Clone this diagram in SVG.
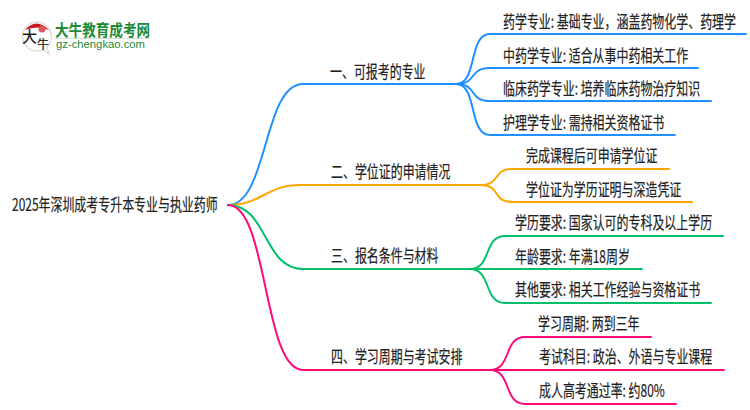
<svg xmlns="http://www.w3.org/2000/svg" width="750" height="410" viewBox="0 0 750 410">
<style>
text{font-family:"Noto Sans CJK SC","Liberation Sans",sans-serif;font-size:17px;fill:#222;stroke:#222;stroke-width:.2px}
.c{fill:none;stroke-width:2;stroke-linecap:round}
.b{stroke:#1e90ff}.o{stroke:#ffa500}.g{stroke:#00c06b}.p{stroke:#ff0a78}
</style>
<rect width="750" height="410" fill="#fff"/>
<g id="logo">
<path d="M37 22a14.500 14.500 0 1 0 0 29q3 0 6-1l6 4-2-7a14.500 14.500 0 0 0-10-25z" fill="#fff" stroke="#ddd" stroke-width="1.500"/>
<path d="M25 30q11-13 24 0q-12-5-24 0z" fill="#c8161d"/>
<circle cx="42" cy="29" r="3.500" fill="#d9535a"/>
<text x="22" y="42" style="font-size:15px;fill:#111;stroke:#111">大</text>
<text x="37" y="49" style="font-size:12px;fill:#111;stroke:#111">牛</text>
<text transform="matrix(.85 0 0 1 55 36)" style="font-size:16px;font-weight:700;fill:#1d8a3a;stroke:none">大牛教育成考网</text>
<rect x="55" y="38" width="95" height="1" fill="#cfe3d3"/>
<text x="56" y="48" textLength="89" lengthAdjust="spacingAndGlyphs" style="font-size:11.500px;fill:#1d8a3a;stroke:none;font-family:'Liberation Sans',sans-serif">gz-chengkao.com</text>
</g>
<g id="connectors">
<path class="c b" d="M228 205C268 205 263 84 303 84H456"/>
<path class="c o" d="M228 205C262 205 266 185 300 185H480"/>
<path class="c g" d="M228 205C268 205 263 269 303 269H470"/>
<path class="c p" d="M228 205C268 205 263 370 303 370H490"/>
<path class="c b" d="M456 84C478 84 468 34 490 34H746"/>
<path class="c b" d="M456 84C478 84 468 68 490 68H698"/>
<path class="c b" d="M456 84C478 84 468 101 490 101H711"/>
<path class="c b" d="M456 84C478 84 468 135 490 135H675"/>
<path class="c o" d="M480 185C502 185 491 169 513 169H669"/>
<path class="c o" d="M480 185C502 185 491 202 513 202H692"/>
<path class="c g" d="M470 269C492 269 483 236 505 236H723"/>
<path class="c g" d="M470 269H642"/>
<path class="c g" d="M470 269C492 269 483 303 505 303H711"/>
<path class="c p" d="M490 370C512 370 503 337 525 337H651"/>
<path class="c p" d="M490 370H724"/>
<path class="c p" d="M490 370C512 370 503 404 525 404H676"/>
</g>
<g id="root"><text transform="matrix(.703 0 0 1 12 211)">2025年深圳成考专升本专业与执业药师</text></g>
<g id="n1"><text transform="matrix(.703 0 0 1 330 78)">一、可报考的专业</text></g>
<g id="n2"><text transform="matrix(.703 0 0 1 331 178)">二、学位证的申请情况</text></g>
<g id="n3"><text transform="matrix(.703 0 0 1 331 262)">三、报名条件与材料</text></g>
<g id="n4"><text transform="matrix(.703 0 0 1 331 363)">四、学习周期与考试安排</text></g>
<g id="n11"><text transform="matrix(.703 0 0 1 503 28)">药学专业: 基础专业，涵盖药物化学、药理学</text></g>
<g id="n12"><text transform="matrix(.703 0 0 1 503 62)">中药学专业: 适合从事中药相关工作</text></g>
<g id="n13"><text transform="matrix(.703 0 0 1 503 95)">临床药学专业: 培养临床药物治疗知识</text></g>
<g id="n14"><text transform="matrix(.703 0 0 1 503 129)">护理学专业: 需持相关资格证书</text></g>
<g id="n21"><text transform="matrix(.703 0 0 1 526 162)">完成课程后可申请学位证</text></g>
<g id="n22"><text transform="matrix(.703 0 0 1 526 196)">学位证为学历证明与深造凭证</text></g>
<g id="n31"><text transform="matrix(.703 0 0 1 515 229)">学历要求: 国家认可的专科及以上学历</text></g>
<g id="n32"><text transform="matrix(.703 0 0 1 515 263)">年龄要求: 年满18周岁</text></g>
<g id="n33"><text transform="matrix(.703 0 0 1 515 296)">其他要求: 相关工作经验与资格证书</text></g>
<g id="n41"><text transform="matrix(.703 0 0 1 538 330)">学习周期: 两到三年</text></g>
<g id="n42"><text transform="matrix(.703 0 0 1 539 363)">考试科目: 政治、外语与专业课程</text></g>
<g id="n43"><text transform="matrix(.703 0 0 1 539 397)">成人高考通过率: 约80%</text></g>
</svg>
